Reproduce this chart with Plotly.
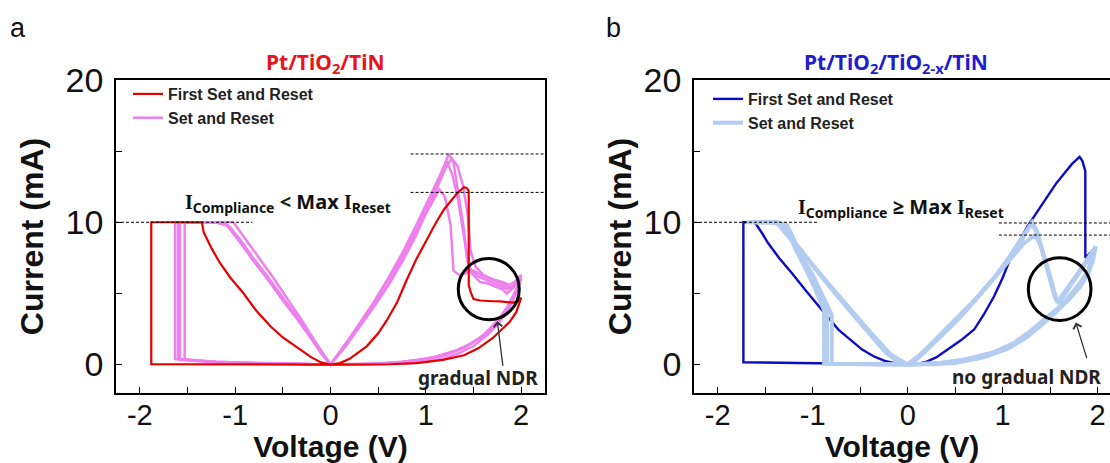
import plotly.graph_objects as go

# ---------------- data: panel a (Pt/TiO2/TiN) ----------------
RED_V = [0, -0.4, -0.8, -1.2, -1.6, -1.88, -1.88, -1.6, -1.35, -1.33, -1.25, -1.16, -1.05, -0.915, -0.78,
         -0.63, -0.5, -0.35, -0.2, -0.1, 0, 0.1, 0.2, 0.38, 0.5, 0.59, 0.7, 0.8, 0.9, 1.01, 1.1, 1.19,
         1.27, 1.33, 1.40, 1.43, 1.45, 1.45, 1.47, 1.5, 1.57, 1.64, 1.71, 1.78, 1.85, 1.92, 1.97, 2.0,
         1.95, 1.88, 1.81, 1.7, 1.55, 1.4, 1.18, 0.9, 0.62, 0.3, 0]
RED_I = [0, 0, 0.01, 0.01, 0.02, 0.02, 10, 10, 10, 9.3, 8.2, 7.14, 6.1, 5.03, 3.8,
         2.69, 1.9, 1.2, 0.5, 0.15, 0, 0.1, 0.4, 1.28, 2.2, 3.1, 4.4, 5.96, 7.4, 8.77, 9.9, 10.9,
         11.6, 12.05, 12.47, 12.4, 12.2, 5.6, 5.1, 4.6, 4.5, 4.45, 4.45, 4.44, 4.4, 4.35, 4.5, 4.7,
         3.7, 3.0, 2.55, 1.85, 1.14, 0.65, 0.33, 0.1, 0.02, 0, 0]

PINK_V1 = [0, -0.3, -0.6, -0.9, -1.2, -1.45, -1.58, -1.58, -1.4, -1.25, -1.1, -0.95, -0.8, -0.65, -0.5,
           -0.35, -0.2, -0.1, 0, 0.15, 0.3, 0.45, 0.6, 0.75, 0.9, 1.02, 1.12, 1.2, 1.24, 1.29, 1.34,
           1.40, 1.43, 1.47, 1.57, 1.65, 1.72, 1.8, 1.85, 1.92, 1.97, 2.0, 1.95, 1.85, 1.75, 1.65, 1.5,
           1.35, 1.2, 1.0, 0.8, 0.6, 0.4, 0.2, 0]
PINK_I1 = [0, 0.03, 0.06, 0.1, 0.17, 0.26, 0.33, 10, 10, 10, 9.9, 8.6, 7.2, 5.9, 4.5,
           3.2, 1.8, 0.8, 0, 1.3, 2.7, 4.1, 5.6, 7.4, 9.4, 11.2, 12.8, 14.1, 14.8, 14.2, 12.2,
           9.5, 7.6, 6.5, 5.8, 5.7, 5.5, 5.3, 5.0, 5.4, 5.9, 6.2, 5.0, 3.7, 2.8, 2.1, 1.3,
           0.8, 0.45, 0.2, 0.08, 0.03, 0.01, 0, 0]

PINK_V2 = [0, -0.3, -0.6, -0.9, -1.2, -1.45, -1.63, -1.63, -1.4, -1.2, -1.06, -0.95, -0.8, -0.65, -0.5,
           -0.35, -0.2, -0.1, 0, 0.15, 0.3, 0.45, 0.6, 0.75, 0.9, 1.02, 1.12, 1.2, 1.27, 1.33, 1.39,
           1.44, 1.47, 1.52, 1.6, 1.7, 1.8, 1.87, 1.93, 2.0, 1.95, 1.85, 1.75, 1.6, 1.45, 1.3, 1.1,
           0.9, 0.7, 0.5, 0.3, 0.1, 0]
PINK_I2 = [0, 0.03, 0.07, 0.12, 0.2, 0.3, 0.38, 10, 10, 10, 9.7, 8.8, 7.4, 6.1, 4.7,
           3.4, 2.0, 0.9, 0, 1.2, 2.6, 4.0, 5.5, 7.2, 9.1, 10.9, 12.5, 13.7, 14.5, 14.0, 12.6,
           10.5, 8.0, 6.9, 6.3, 6.0, 5.8, 5.6, 5.8, 6.3, 5.3, 4.0, 3.1, 2.0, 1.4, 0.95, 0.55,
           0.3, 0.15, 0.07, 0.02, 0, 0]

PINK_V3 = [0, -0.3, -0.6, -0.9, -1.2, -1.4, -1.53, -1.53, -1.35, -1.2, -1.02, -0.9, -0.75, -0.6, -0.45,
           -0.3, -0.15, 0, 0.15, 0.3, 0.45, 0.6, 0.75, 0.9, 1.02, 1.1, 1.14, 1.2, 1.26, 1.29, 1.35,
           1.42, 1.45, 1.5, 1.58, 1.68, 1.78, 1.88, 1.95, 2.0, 1.9, 1.8, 1.7, 1.55, 1.4, 1.2, 1.0,
           0.75, 0.5, 0.25, 0]
PINK_I3 = [0, 0.03, 0.06, 0.11, 0.18, 0.27, 0.33, 10, 10, 10, 10, 8.9, 7.5, 6.1, 4.6,
           3.1, 1.5, 0, 1.4, 2.8, 4.3, 5.9, 7.6, 9.4, 10.9, 11.8, 12.3, 11.8, 9.8, 6.6, 6.3,
           6.4, 6.7, 6.6, 6.3, 6.0, 5.7, 5.4, 5.7, 6.0, 4.3, 3.4, 2.6, 1.8, 1.2, 0.7, 0.4,
           0.2, 0.08, 0.02, 0]

PINK_V4 = [0, -0.3, -0.6, -0.9, -1.2, -1.45, -1.6, -1.6, -1.4, -1.2, -1.08, -0.95, -0.8, -0.65, -0.5,
           -0.35, -0.2, -0.1, 0, 0.15, 0.3, 0.45, 0.6, 0.75, 0.9, 1.0, 1.1, 1.17, 1.22, 1.28, 1.34,
           1.4, 1.44, 1.48, 1.55, 1.65, 1.75, 1.85, 1.92, 2.0, 1.9, 1.8, 1.7, 1.55, 1.4, 1.2, 1.0,
           0.75, 0.5, 0.25, 0]
PINK_I4 = [0, 0.03, 0.07, 0.12, 0.2, 0.3, 0.4, 10, 10, 10, 9.8, 8.7, 7.3, 5.95, 4.55,
           3.25, 1.9, 0.85, 0, 1.35, 2.85, 4.35, 6.0, 7.8, 9.8, 11.2, 12.7, 13.6, 14.3, 13.3, 11.5,
           9.0, 7.2, 6.6, 6.2, 5.9, 5.6, 5.3, 5.5, 6.1, 4.4, 3.4, 2.6, 1.8, 1.15, 0.65, 0.35,
           0.15, 0.05, 0.01, 0]

# ---------------- data: panel b (Pt/TiO2/TiO2-x/TiN) ----------------
BLUE_V = [0, -0.4, -0.8, -1.2, -1.5, -1.73, -1.73, -1.61, -1.54, -1.47, -1.35, -1.22, -1.08, -0.94, -0.83,
          -0.73, -0.6, -0.48, -0.35, -0.23, -0.1, 0, 0.1, 0.2, 0.3, 0.42, 0.56, 0.7, 0.8, 0.91, 1.0,
          1.09, 1.18, 1.26, 1.37, 1.47, 1.56, 1.65, 1.73, 1.81, 1.84, 1.87, 1.87, 1.93, 1.98]
BLUE_I = [0, 0.03, 0.06, 0.1, 0.14, 0.16, 10, 10, 9.3, 8.54, 7.45, 6.44, 5.25, 4.09, 3.25,
          2.46, 1.7, 1.05, 0.55, 0.23, 0.05, 0, 0.05, 0.2, 0.5, 1.05, 1.7, 2.46, 3.5, 4.8, 6.1,
          7.6, 8.7, 9.7, 10.8, 11.8, 12.7, 13.45, 14.1, 14.6, 14.3, 13.6, 7.5, 7.9, 8.3]

LBLUE_V1 = [0, -0.2, -0.4, -0.6, -0.75, -0.85, -0.85, -0.95, -1.05, -1.15, -1.27, -1.45, -1.65, -1.45,
            -1.36, -1.2, -1.08, -0.94, -0.8, -0.59, -0.4, -0.23, -0.1, 0, 0.1, 0.2, 0.42, 0.6, 0.77,
            0.92, 1.05, 1.16, 1.26, 1.31, 1.36, 1.42, 1.49, 1.55, 1.58, 1.64, 1.72, 1.8, 1.88, 1.95,
            1.98, 1.95, 1.9, 1.82, 1.7, 1.54, 1.3, 1.12, 0.9, 0.59, 0.3, 0]
LBLUE_I1 = [0, 0.01, 0.02, 0.03, 0.05, 0.06, 3.7, 5.2, 6.6, 7.9, 9.8, 10, 10, 10,
            10, 8.6, 7.6, 6.44, 5.3, 3.63, 2.2, 0.82, 0.2, 0, 0.4, 1.0, 2.46, 3.7, 5.03,
            6.2, 7.37, 8.5, 9.47, 10.0, 9.4, 8.0, 6.2, 4.7, 4.4, 5.0, 5.7, 6.5, 7.3, 8.0,
            8.3, 7.3, 6.4, 5.5, 4.6, 3.74, 2.4, 1.52, 0.85, 0.35, 0.08, 0]

LBLUE_V2 = [0, -0.2, -0.4, -0.6, -0.8, -0.8, -0.9, -1.0, -1.12, -1.24, -1.4, -1.6, -1.4, -1.32, -1.18,
            -1.04, -0.9, -0.75, -0.55, -0.35, -0.18, 0, 0.15, 0.35, 0.55, 0.75, 0.95, 1.1, 1.22, 1.34,
            1.4, 1.47, 1.53, 1.57, 1.62, 1.7, 1.8, 1.9, 1.97, 1.9, 1.8, 1.7, 1.55, 1.35, 1.15, 0.95,
            0.7, 0.45, 0.2, 0]
LBLUE_I2 = [0, 0.01, 0.02, 0.03, 0.05, 3.5, 4.9, 6.3, 7.6, 9.4, 10, 10, 10, 9.7, 8.5,
            7.3, 6.1, 4.9, 3.4, 1.9, 0.7, 0, 0.8, 2.0, 3.3, 4.8, 6.4, 7.6, 8.5, 9.1,
            8.4, 6.9, 5.4, 4.5, 4.7, 5.5, 6.4, 7.4, 8.1, 6.4, 5.4, 4.6, 3.6, 2.5, 1.6, 0.95,
            0.45, 0.15, 0.03, 0]

LBLUE_V3 = [0, -0.2, -0.4, -0.6, -0.8, -0.88, -0.88, -0.98, -1.08, -1.18, -1.3, -1.5, -1.7, -1.5, -1.38,
            -1.22, -1.06, -0.9, -0.72, -0.52, -0.32, -0.15, 0, 0.12, 0.3, 0.5, 0.7, 0.9, 1.05, 1.18,
            1.3, 1.36, 1.43, 1.5, 1.56, 1.6, 1.68, 1.78, 1.88, 1.96, 1.9, 1.8, 1.65, 1.45, 1.25, 1.05,
            0.8, 0.5, 0.25, 0]
LBLUE_I3 = [0, 0.01, 0.02, 0.03, 0.05, 0.06, 3.8, 5.4, 6.8, 8.1, 9.9, 10, 10, 10, 10,
            8.7, 7.5, 6.2, 4.8, 3.2, 1.7, 0.5, 0, 0.6, 1.8, 3.1, 4.5, 6.0, 7.2, 8.5,
            9.9, 9.3, 7.7, 5.9, 4.6, 4.4, 5.2, 6.2, 7.1, 8.0, 6.6, 5.6, 4.4, 3.0, 1.9, 1.1,
            0.5, 0.1, 0.02, 0]

# reference levels (x_start, x_end, current)
DASH_A = [(-2.25, -0.82, 10.0), (0.84, 2.25, 14.8), (0.84, 2.25, 12.1)]
DASH_B = [(-2.25, -0.94, 10.0), (0.96, 2.13, 9.95), (0.96, 2.13, 9.1)]
# circle (centre V, centre I, radius V, radius I)
CIRCLE_A = (1.66, 5.3, 0.32, 2.15)
CIRCLE_B = (1.60, 5.3, 0.33, 2.2)
# arrows (head V, head I, tail V, tail I)
ARROW_A = (1.75, 3.05, 1.81, -0.2)
ARROW_B = (1.77, 2.95, 1.89, 0.35)

X_TICKS = [-2, -1.5, -1, -0.5, 0, 0.5, 1, 1.5, 2]
X_TICKTEXT = ["-2", "", "-1", "", "0", "", "1", "", "2"]
Y_TICKS = [0, 5, 10, 15, 20]
Y_TICKTEXT = ["0", "", "10", "", "20"]

RED = "#E60000"
PINK = "#EE80EE"
DBLUE = "#0C0CC4"
LBLUE = "#B4CCF0"

# ---------------- layout helpers ----------------
ML, MR, MT, MB = 116, 0, 80, 70
W, H = 1110, 463
PW, PH = W - ML - MR, H - MT - MB


def px(x):
    return (x - ML) / PW


def py(y):
    return (H - MB - y) / PH


fig = go.Figure()

for i, (v, c) in enumerate([(PINK_V1, PINK_I1), (PINK_V2, PINK_I2), (PINK_V3, PINK_I3), (PINK_V4, PINK_I4)]):
    fig.add_trace(go.Scatter(x=v, y=c, mode="lines", line=dict(color=PINK, width=2.5),
                             name="Set and Reset", showlegend=(i == 0), legendrank=2,
                             legend="legend", xaxis="x", yaxis="y", hoverinfo="skip"))
fig.add_trace(go.Scatter(x=RED_V, y=RED_I, mode="lines", line=dict(color=RED, width=2.2),
                         name="First Set and Reset", legendrank=1, legend="legend",
                         xaxis="x", yaxis="y", hoverinfo="skip"))

fig.add_trace(go.Scatter(x=BLUE_V, y=BLUE_I, mode="lines", line=dict(color=DBLUE, width=2.4),
                         name="First Set and Reset", legendrank=1, legend="legend2",
                         xaxis="x2", yaxis="y2", hoverinfo="skip"))
for i, (v, c) in enumerate([(LBLUE_V1, LBLUE_I1), (LBLUE_V2, LBLUE_I2), (LBLUE_V3, LBLUE_I3)]):
    fig.add_trace(go.Scatter(x=v, y=c, mode="lines", line=dict(color=LBLUE, width=4),
                             name="Set and Reset", showlegend=(i == 0), legendrank=2,
                             legend="legend2", xaxis="x2", yaxis="y2", hoverinfo="skip"))

SANS = "Liberation Sans, Arial, sans-serif"
KFONT = "Noto Sans, Open Sans, sans-serif"

common_x = dict(tickvals=X_TICKS, ticktext=X_TICKTEXT, ticks="inside", ticklen=6, tickwidth=1.2,
                tickcolor="black", showline=True, linecolor="black", linewidth=1.5,
                showgrid=False, zeroline=False, ticklabelstandoff=-5,
                tickfont=dict(family=SANS, size=29, color="#111"),
                title=dict(text="Voltage (V)", font=dict(family=SANS, size=30, color="#111", weight="bold"),
                           standoff=0))
common_y = dict(tickvals=Y_TICKS, ticktext=Y_TICKTEXT, ticks="inside", ticklen=6, tickwidth=1.2,
                tickcolor="black", showline=True, linecolor="black", linewidth=1.5,
                showgrid=False, zeroline=False, range=[-2, 20], domain=[0, 1], ticklabelstandoff=4,
                tickfont=dict(family=SANS, size=34, color="#111"))
ytitle_font = dict(family=SANS, size=32, color="#111", weight="bold")

legend_font = dict(family=SANS, size=16, color="#222", weight="bold")

fig.update_layout(
    width=W, height=H, margin=dict(l=ML, r=MR, t=MT, b=MB),
    paper_bgcolor="white", plot_bgcolor="white",
    xaxis=dict(domain=[0, px(545)], range=[-2.25, 2.25], anchor="y", mirror=True, **common_x),
    yaxis=dict(anchor="x", mirror=True, title=dict(text="Current (mA)", font=ytitle_font, standoff=12),
               **common_y),
    xaxis2=dict(domain=[px(694), 1], range=[-2.25, 2.13], anchor="y2", mirror=True, **common_x),
    yaxis2=dict(anchor="x2", mirror=False, title=dict(text="Current (mA)", font=ytitle_font, standoff=2),
                **common_y),
    legend=dict(x=px(128), y=py(77), xanchor="left", yanchor="top", bgcolor="rgba(0,0,0,0)",
                font=legend_font, tracegroupgap=0, traceorder="normal"),
    legend2=dict(x=px(708), y=py(82), xanchor="left", yanchor="top", bgcolor="rgba(0,0,0,0)",
                 font=legend_font, tracegroupgap=0, traceorder="normal"),
    showlegend=True,
)

shapes = []
for (xr, yr, dashes) in [("x", "y", DASH_A), ("x2", "y2", DASH_B)]:
    for x0, x1, yv in dashes:
        shapes.append(dict(type="line", xref=xr, yref=yr, x0=x0, x1=x1, y0=yv, y1=yv,
                           line=dict(color="black", width=1, dash="3px,2px")))
for (xr, yr, c) in [("x", "y", CIRCLE_A), ("x2", "y2", CIRCLE_B)]:
    cx, cy, rx, ry = c
    shapes.append(dict(type="circle", xref=xr, yref=yr, x0=cx - rx, x1=cx + rx, y0=cy - ry, y1=cy + ry,
                       line=dict(color="black", width=3)))
fig.update_layout(shapes=shapes)

ann = []
for (xr, yr, a) in [("x", "y", ARROW_A), ("x2", "y2", ARROW_B)]:
    hx, hy, tx, ty = a
    ann.append(dict(x=hx, y=hy, xref=xr, yref=yr, ax=tx, ay=ty, axref=xr, ayref=yr, text="",
                    showarrow=True, arrowhead=4, arrowsize=1.3, arrowwidth=1.3, arrowcolor="#333"))


def label(x, y, text, font, xanchor="center"):
    ann.append(dict(x=px(x), y=py(y), xref="paper", yref="paper", showarrow=False,
                    xanchor=xanchor, yanchor="middle", text=text, font=font))


label(325, 63, "<b>Pt/TiO<sub>2</sub>/TiN</b>", dict(family=KFONT, size=21, color="#E8141C"))
label(896, 63, "<b>Pt/TiO<sub>2</sub>/TiO<sub>2-x</sub>/TiN</b>", dict(family=KFONT, size=21, color="#1E1ECF"))
SERIF_I = "<span style='font-family:Liberation Serif'>I</span>"
label(288, 202, "<b>" + SERIF_I + "<sub>Compliance</sub> &lt; Max " + SERIF_I + "<sub>Reset</sub></b>",
      dict(family=KFONT, size=20, color="#111"))
label(901, 207, "<b>" + SERIF_I + "<sub>Compliance</sub> \u2265 Max " + SERIF_I + "<sub>Reset</sub></b>",
      dict(family=KFONT, size=20, color="#111"))
label(478, 378, "<b>gradual NDR</b>", dict(family=KFONT, size=19, color="#222"))
label(950, 377, "<b>no gradual NDR</b>", dict(family=KFONT, size=19, color="#222"), xanchor="left")
label(8, 28, "a", dict(family=SANS, size=27, color="#111"), xanchor="left")
label(604, 28, "b", dict(family=SANS, size=27, color="#111"), xanchor="left")
fig.update_layout(annotations=ann)

fig.write_html("out.html")
